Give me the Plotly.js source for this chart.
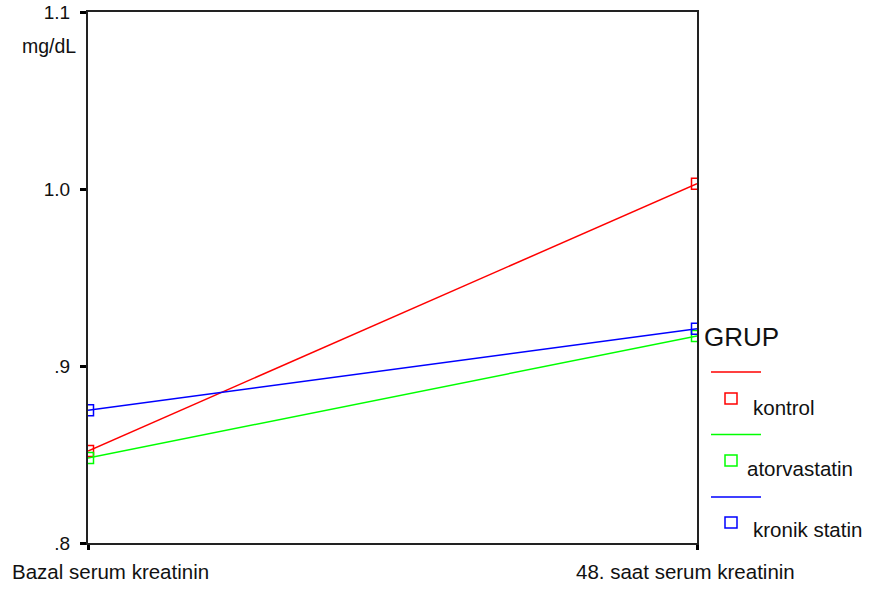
<!DOCTYPE html>
<html>
<head>
<meta charset="utf-8">
<script src="https://cdn.plot.ly/plotly-3.0.1.min.js"></script>
<style>html,body{margin:0;padding:0;background:#fff;}#chart{width:869px;height:592px;}</style>
</head>
<body>
<div id="chart"></div>
<script>
// ---- data ----
const categories = ['Bazal serum kreatinin', '48. saat serum kreatinin'];
const groupNames = ['kontrol', 'atorvastatin', 'kronik statin'];
const kontrol = [0.852, 1.003];
const atorvastatin = [0.848, 0.917];
const kronikStatin = [0.875, 0.921];
const yTickVals = [0.8, 0.9, 1.0, 1.1];
const yTickText = ['.8', '.9', '1.0', '1.1'];
const unitLabel = 'mg/dL';
const legendTitle = 'GRUP';

// ---- styling ----
const colors = ['#ff0000', '#00ff00', '#0000ff'];
const seriesValues = [kontrol, atorvastatin, kronikStatin];
const FONT = 'Liberation Sans, Arial, sans-serif';
const W = 869, H = 592;
const M = {l: 88, r: 172, t: 12, b: 49};
const PW = W - M.l - M.r, PH = H - M.t - M.b;
const px = x => (x - M.l) / PW;
const py = y => (H - M.b - y) / PH;

const traces = seriesValues.map((vals, i) => ({
  type: 'scatter', mode: 'lines+markers',
  x: categories, y: vals, name: groupNames[i],
  line: {color: colors[i], width: 1.5},
  marker: {symbol: 'square-open', size: 11, color: colors[i], line: {width: 1.5, color: colors[i]}},
  cliponaxis: true, showlegend: false
}));

const shapes = [];
const annotations = [];

// axis labels for categories
annotations.push({xref: 'x', yref: 'paper', x: categories[0], y: 0, xanchor: 'left', yanchor: 'top',
  xshift: -78, yshift: -15, text: categories[0], showarrow: false, font: {family: FONT, size: 20.5, color: '#111'}});
annotations.push({xref: 'x', yref: 'paper', x: categories[1], y: 0, xanchor: 'right', yanchor: 'top',
  xshift: 100, yshift: -15, text: categories[1], showarrow: false, font: {family: FONT, size: 20.5, color: '#111'}});
// unit label
annotations.push({xref: 'paper', yref: 'paper', x: px(48.5), y: py(46), xanchor: 'center', yanchor: 'middle',
  text: unitLabel, showarrow: false, font: {family: FONT, size: 19.5, color: '#111'}});
// custom legend
annotations.push({xref: 'paper', yref: 'paper', x: px(702), y: py(337), xanchor: 'left', yanchor: 'middle',
  text: legendTitle, showarrow: false, font: {family: FONT, size: 26, color: '#111'}});
groupNames.forEach((name, i) => {
  const ly = 372 + 62.5 * i;
  shapes.push({type: 'line', xref: 'paper', yref: 'paper', x0: px(711), x1: px(761), y0: py(ly), y1: py(ly),
    line: {color: colors[i], width: 1.5}});
  const my = 398.5 + 62 * i;
  shapes.push({type: 'rect', xref: 'paper', yref: 'paper', x0: px(725), x1: px(737), y0: py(my - 5.5), y1: py(my + 5.5),
    line: {color: colors[i], width: 1.5}, fillcolor: 'rgba(0,0,0,0)'});
  annotations.push({xref: 'paper', yref: 'paper', x: px(i === 1 ? 745 : 751), y: py(407 + 61 * i), xanchor: 'left', yanchor: 'middle',
    text: name, showarrow: false, font: {family: FONT, size: 20.5, color: '#111'}});
});

const layout = {
  width: W, height: H,
  margin: M,
  paper_bgcolor: '#fff', plot_bgcolor: '#fff',
  showlegend: false,
  font: {family: FONT, size: 18, color: '#111'},
  xaxis: {
    type: 'category', range: [0, 1], showgrid: false, zeroline: false,
    showline: true, linecolor: '#222', linewidth: 2, mirror: true,
    ticks: 'outside', ticklen: 5, tickwidth: 3, tickcolor: '#000',
    showticklabels: false, fixedrange: true
  },
  yaxis: {
    range: [0.8, 1.1], showgrid: false, zeroline: false,
    showline: true, linecolor: '#222', linewidth: 2, mirror: true,
    ticks: 'outside', ticklen: 6, tickwidth: 3, tickcolor: '#000',
    tickvals: yTickVals, ticktext: yTickText, ticklabelstandoff: 6,
    tickfont: {family: FONT, size: 19, color: '#111'}, fixedrange: true
  },
  shapes: shapes,
  annotations: annotations
};

Plotly.newPlot('chart', traces, layout, {displayModeBar: false, staticPlot: true});
</script>
</body>
</html>
